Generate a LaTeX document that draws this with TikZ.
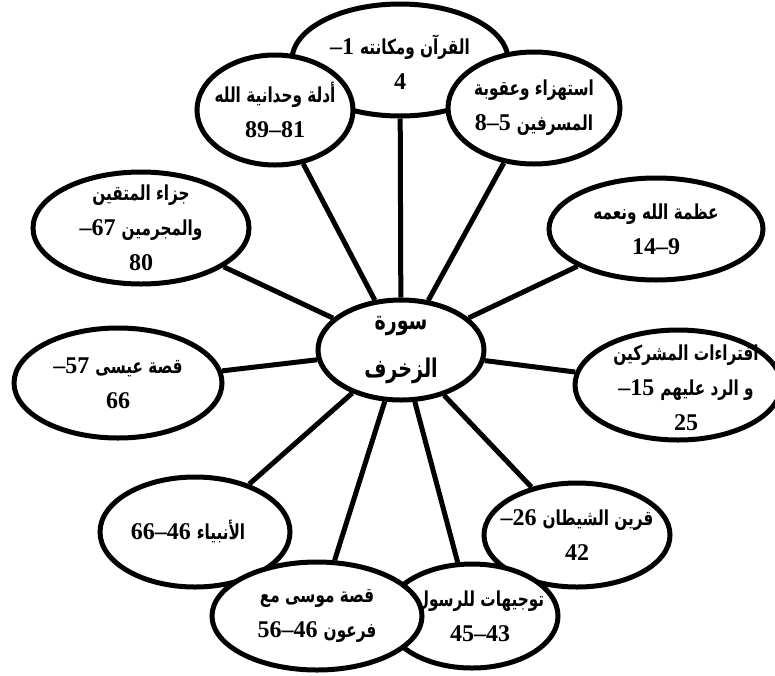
\documentclass[tikz,border=0pt]{standalone}
\usepackage{fontspec}
\setmainfont{Liberation Serif}
\newfontfamily\arfont[Script=Arabic,Scale=0.86,FakeStretch=0.74]{DejaVu Sans}
\usetikzlibrary{shapes.geometric}
\TeXXeTstate=1

\newcommand{\ar}[1]{{\arfont\beginR #1\endR}}

\begin{document}
\begin{tikzpicture}[x=0.5pt, y=-0.5pt, every node/.style={ellipse, draw=black, line width=2.5pt, fill=white, inner sep=0pt},
    sz/.style 2 args={minimum width=#1pt, minimum height=#2pt},
    txt/.style={draw=none, fill=none, rectangle, align=center, font=\bfseries\fontsize{12}{17.5}\selectfont},
    link/.style={line width=2.5pt}]

    \useasboundingbox (0,0) rectangle (775,675);

    % Nodes
    \node (quran) [sz={108}{56}] at (400,60) {};
    \node[txt] (quran-t) at (400,62) {–1 \ar{القرآن ومكانته}\\ 4};

    \node (adilla) [sz={78}{55}] at (275,110) {};
    \node[txt] (adilla-t) at (adilla) {\ar{أدلة وحدانية الله}\\ 89–81};

    \node (istihza) [sz={86}{56}] at (534,108) {};
    \node[txt] (istihza-t) at (istihza) {\ar{استهزاء وعقوبة}\\ 8–5 \ar{المسرفين}};

    \node (azama) [sz={107}{51}] at (656,229) {};
    \node[txt] (azama-t) at (azama) {\ar{عظمة الله ونعمه}\\ 14–9};

    \node (iftiraa) [sz={103}{55}] at (678,385) {};
    \node[txt] (iftiraa-t) at (686,388) {\ar{افتراءات المشركين}\\ –15 \ar{و الرد عليهم}\\ 25};

    \node (qarin) [sz={93}{52}] at (577,535) {};
    \node[txt] (qarin-t) at (qarin) {–26 \ar{قرين الشيطان}\\ 42};

    \node (tawjih) [sz={86}{52}] at (472,616) {};
    \node[txt] (tawjih-t) at (480,616) {\ar{توجيهات للرسول}\\ 45–43};

    \node (anbiya) [sz={95}{55}] at (195,532) {};
    \node[txt] (anbiya-t) at (188,532) {66–46 \ar{الأنبياء}};

    \node (musa) [sz={105}{54}] at (317,616) {};
    \node[txt] (musa-t) at (musa) {\ar{قصة موسى مع}\\ 56–46 \ar{فرعون}};

    \node (isa) [sz={104}{55}] at (118,383) {};
    \node[txt] (isa-t) at (isa) {–57 \ar{قصة عيسى}\\ 66};

    \node (jaza) [sz={108}{56}] at (141,228) {};
    \node[txt] (jaza-t) at (jaza) {\ar{جزاء المتقين}\\ –67 \ar{والمجرمين}\\ 80};

    \node (sura) [sz={83}{50}] at (401,350) {};
    \node[txt, font=\bfseries\fontsize{15}{24}\selectfont] (sura-t) at (sura) {\ar{سورة}\\ \ar{الزخرف}};

    % Links
    \foreach \n in {quran, adilla, istihza, azama, iftiraa, qarin, tawjih, anbiya, musa, isa, jaza}
        \draw[link] (sura) -- (\n);

\end{tikzpicture}
\end{document}
